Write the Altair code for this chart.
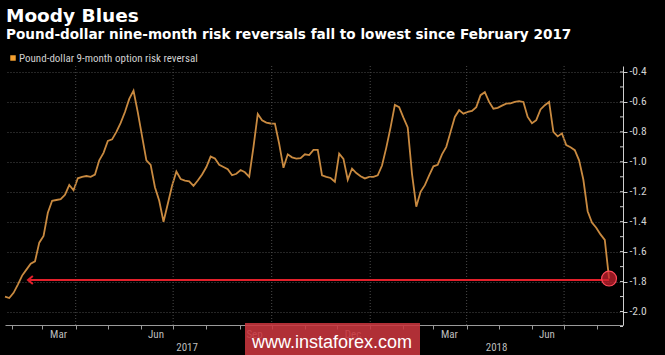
import altair as alt
import pandas as pd

# ---- data ----
start_date = "2017-01-25"
step_days = 4
values = [
    -1.90, -1.91, -1.875, -1.82, -1.76, -1.72, -1.68, -1.665, -1.54, -1.495,
    -1.34, -1.26, -1.255, -1.25, -1.22, -1.155, -1.19, -1.11, -1.10, -1.095,
    -1.10, -1.085, -0.99, -0.94, -0.86, -0.85, -0.80, -0.74, -0.667, -0.58,
    -0.525, -0.67, -0.83, -0.99, -1.02, -1.17, -1.26, -1.40, -1.28, -1.16,
    -1.065, -1.115, -1.125, -1.13, -1.16, -1.125, -1.085, -1.035, -0.965, -0.978,
    -1.02, -1.035, -1.05, -1.09, -1.08, -1.055, -1.07, -1.10, -0.90, -0.68,
    -0.722, -0.738, -0.744, -0.745, -0.88, -1.04, -0.95, -0.97, -0.978, -0.975,
    -0.95, -0.955, -0.92, -0.92, -1.09, -1.10, -1.108, -1.133, -0.945, -0.98,
    -1.12, -1.045, -1.075, -1.097, -1.111, -1.10, -1.10, -1.09, -1.025, -0.905,
    -0.77, -0.62, -0.635, -0.705, -0.77, -1.08, -1.30, -1.20, -1.156, -1.09,
    -1.03, -1.02, -0.95, -0.90, -0.80, -0.70, -0.655, -0.678, -0.667, -0.66,
    -0.635, -0.555, -0.535, -0.60, -0.645, -0.64, -0.625, -0.611, -0.61, -0.60,
    -0.595, -0.60, -0.70, -0.742, -0.722, -0.65, -0.622, -0.60, -0.80, -0.83,
    -0.81, -0.888, -0.903, -0.922, -0.99, -1.12, -1.33, -1.405, -1.44, -1.485,
    -1.522, -1.78,
]
y_ticks = [-2.0, -1.8, -1.6, -1.4, -1.2, -1.0, -0.8, -0.6, -0.4]
y_minor = [-2.1, -1.9, -1.7, -1.5, -1.3, -1.1, -0.9, -0.7, -0.5]
month_starts = ["2017-02-01", "2017-03-01", "2017-04-01", "2017-05-01", "2017-06-01",
                "2017-07-01", "2017-08-01", "2017-09-01", "2017-10-01", "2017-11-01",
                "2017-12-01", "2018-01-01", "2018-02-01", "2018-03-01", "2018-04-01",
                "2018-05-01", "2018-06-01", "2018-07-01", "2018-08-01"]
quarter_starts = ["2017-04-01", "2017-07-01", "2017-10-01", "2018-01-01", "2018-04-01", "2018-07-01"]
month_labels = ["Mar", "Jun", "Sep", "Dec", "Mar", "Jun"]
month_label_dates = ["2017-03-16", "2017-06-15", "2017-09-15", "2017-12-16", "2018-03-16", "2018-06-15"]
year_labels = ["2017", "2018"]
year_label_dates = ["2017-07-14", "2018-04-29"]
arrow_start = "2017-02-17"
arrow_level = -1.79

title = "Moody Blues"
subtitle = "Pound-dollar nine-month risk reversals fall to lowest since February 2017"
legend_label = "Pound-dollar 9-month option risk reversal"
watermark = "www.instaforex.com"

# ---- tables ----
dates = pd.date_range(start_date, periods=len(values), freq=f"{step_days}D")
df = pd.DataFrame({"date": dates.strftime("%Y-%m-%d"), "value": values})
last = df.iloc[[-1]].copy()
arrow_df = pd.DataFrame({"start": [arrow_start], "end": [df["date"].iloc[-1]], "value": [arrow_level]})
head_df = pd.DataFrame({"date": [arrow_start], "value": [arrow_level]})
q_df = pd.DataFrame({"date": quarter_starts})
m_df = pd.DataFrame({"date": month_label_dates, "label": month_labels})
yr_df = pd.DataFrame({"date": year_label_dates, "label": year_labels})
minor_df = pd.DataFrame({"v": y_minor + y_ticks})

W, H = 618, 259
FONT = "Liberation Sans Narrow, Roboto Condensed, Roboto, sans-serif"
LINE = "#c98a40"
RED = "#e3202b"

xscale = alt.Scale(domain=[alt.DateTime(year=2017, month=1, date=25, utc=True),
                           alt.DateTime(year=2018, month=8, date=25, utc=True)])
yscale = alt.Scale(domain=[-2.09, -0.36], nice=False, zero=False)

month_dt = [alt.DateTime(year=int(d[:4]), month=int(d[5:7]), date=1, utc=True) for d in month_starts]

xaxis = alt.Axis(values=month_dt, labels=False, tickSize=4, tickColor="#9a9a9a",
                 domainColor="#9a9a9a", grid=False, title=None)
yaxis = alt.Axis(orient="right", values=y_ticks, labelExpr="'-' + format(abs(datum.value), '.1f')",
                 tickSize=4, tickColor="#cfcfcf", domainColor="#cfcfcf", labelColor="#d2d2d2",
                 labelFontSize=11.5, labelFont=FONT, labelPadding=2, labelOverlap=False,
                 labelFlush=False, grid=True, gridColor="#4a4a4a", gridDash=[1, 2], title=None)


def X(field):
    return alt.X(field, scale=xscale, axis=xaxis)


def Y(field):
    return alt.Y(field, scale=yscale, axis=yaxis)


line = alt.Chart(df).mark_line(color=LINE, strokeWidth=1.8, interpolate="linear").encode(
    x=X("date:T"), y=Y("value:Q"),
)

vgrid = alt.Chart(q_df).mark_rule(color="#4a4a4a", strokeDash=[1, 2], strokeWidth=1).encode(
    x=X("date:T")
)

minor = alt.Chart(minor_df).mark_rule(color="#cfcfcf", strokeWidth=1).encode(
    x=alt.value(W - 3), x2=alt.value(W), y=Y("v:Q")
)

arrow = alt.Chart(arrow_df).mark_rule(color=RED, strokeWidth=2).encode(
    x=X("start:T"), x2="end:T", y=Y("value:Q")
)
head = alt.Chart(head_df).mark_point(shape="M0.8,-1L-0.4,0L0.8,1", filled=False, color=RED,
                                     strokeWidth=2, size=64, opacity=1).encode(
    x=X("date:T"), y=Y("value:Q")
)
circle = alt.Chart(last).mark_point(shape="circle", filled=True, fill="#c8202e", fillOpacity=0.75,
                                    stroke="#ff4a5a", strokeWidth=1.2, size=220).encode(
    x=X("date:T"), y=Y("value:Q")
)

mlabels = alt.Chart(m_df).mark_text(color="#bdbdbd", fontSize=11, font=FONT, baseline="alphabetic").encode(
    x=X("date:T"), y=alt.value(H + 13), text="label:N"
)
ylabels = alt.Chart(yr_df).mark_text(color="#bdbdbd", fontSize=11, font=FONT, baseline="alphabetic").encode(
    x=X("date:T"), y=alt.value(H + 26), text="label:N"
)

t1 = alt.Chart(pd.DataFrame({"t": [title]})).mark_text(
    color="white", fontSize=18.5, fontWeight="bold", font="DejaVu Sans", align="left", baseline="alphabetic"
).encode(x=alt.value(1), y=alt.value(-44), text="t:N")
t2 = alt.Chart(pd.DataFrame({"t": [subtitle]})).mark_text(
    color="white", fontSize=13.6, fontWeight="bold", font="DejaVu Sans", align="left", baseline="alphabetic"
).encode(x=alt.value(1), y=alt.value(-27), text="t:N")
leg_sq = alt.Chart(pd.DataFrame({"t": [legend_label]})).mark_square(color="#f4a030", size=30, opacity=1).encode(
    x=alt.value(8), y=alt.value(-8)
)
leg_tx = alt.Chart(pd.DataFrame({"t": [legend_label]})).mark_text(
    color="#cfcfcf", fontSize=11, font=FONT, align="left", baseline="alphabetic"
).encode(x=alt.value(14), y=alt.value(-4), text="t:N")

wm_rect = alt.Chart(pd.DataFrame({"t": [watermark]})).mark_rect(color="#c8363d", opacity=0.88).encode(
    x=alt.value(240), x2=alt.value(415), y=alt.value(257), y2=alt.value(290)
)
wm_text = alt.Chart(pd.DataFrame({"t": [watermark]})).mark_text(
    color="white", fontSize=18, font="Liberation Sans, Arial, sans-serif", align="center", baseline="alphabetic"
).encode(x=alt.value(327), y=alt.value(282), text="t:N")

chart = alt.layer(
    line, vgrid, minor, arrow, head, circle, mlabels, ylabels, t1, t2, leg_sq, leg_tx, wm_rect, wm_text
).properties(
    width=W, height=H,
    autosize=alt.AutoSizeParams(type="none"),
    padding={"left": 5, "top": 66, "right": 42, "bottom": 30},
    background="#000000",
).configure_view(stroke=None)

chart.save("out.html", embed_options={"renderer": "svg", "actions": False})
